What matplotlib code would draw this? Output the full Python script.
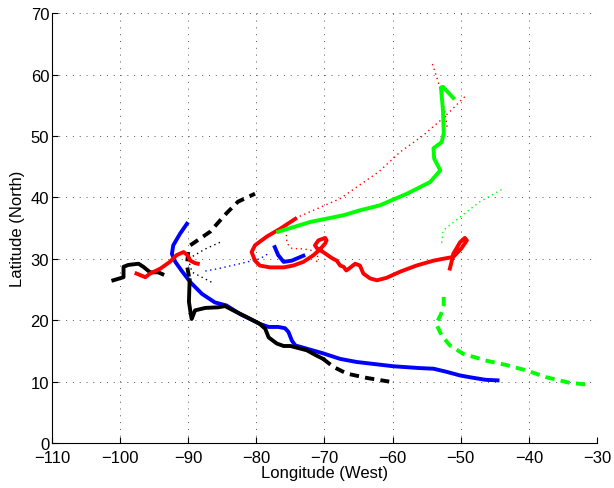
import matplotlib
matplotlib.use("Agg")
import matplotlib.pyplot as plt

plt.rcParams['font.family'] = ['Liberation Sans', 'DejaVu Sans']

# ---- black tracks ----
blk_solid_lon = [-101.0, -99.5, -99.5, -98.8, -97.3, -96.6, -95.6, -94.4, -93.8]
blk_solid_lat = [26.5, 27.0, 28.7, 29.0, 29.2, 28.7, 27.8, 27.8, 27.5]
blk_main_lon = [-89.8, -89.9, -89.6, -89.5, -89.0, -87.5, -85.6, -84.6, -83.4, -81.4, -79.5,
                -78.7, -78.2, -77.0, -76.0, -75.0, -72.6, -71.1, -70.2]
blk_main_lat = [26.5, 23.0, 20.8, 20.2, 21.6, 22.0, 22.1, 22.3, 21.6, 20.5, 19.4,
                18.6, 17.2, 16.2, 15.8, 15.8, 15.1, 14.2, 13.7]
blk_vdash_lon = [-90.0, -90.2, -89.8]
blk_vdash_lat = [31.1, 29.0, 26.5]
blk_dash_lon = [-70.2, -68.7, -66.7, -63.8, -60.5]
blk_dash_lat = [13.7, 12.4, 11.3, 10.6, 10.0]
blk_dash2_lon = [-89.7, -86.8, -84.4, -82.7, -80.2]
blk_dash2_lat = [32.2, 34.4, 37.4, 39.3, 40.6]
blk_dot_lon = [-86.6, -88.0, -89.4, -89.8, -89.5, -87.5, -85.3]
blk_dot_lat = [26.2, 27.0, 27.8, 29.0, 30.3, 31.6, 32.7]

# ---- blue tracks ----
blu_lon = [-44.6, -46.4, -48.6, -50.1, -52.1, -54.0, -56.0, -59.9, -65.3, -67.7, -70.2, -74.3,
           -74.8, -75.3, -75.8, -76.8, -78.2, -79.5, -80.0, -82.4, -84.4, -86.1, -88.0, -89.7,
           -91.0, -91.9, -92.4, -92.2, -91.2, -90.2]
blu_lat = [10.2, 10.3, 10.7, 11.0, 11.6, 12.1, 12.2, 12.5, 13.2, 13.7, 14.6, 15.9,
           16.7, 18.1, 18.7, 18.9, 18.9, 19.4, 19.7, 21.0, 22.4, 22.9, 24.3, 26.2,
           28.1, 29.5, 30.8, 32.2, 34.1, 35.7]
blu_short_lon = [-77.3, -76.8, -76.0, -74.8, -73.1]
blu_short_lat = [31.9, 30.6, 29.5, 29.7, 30.5]
blu_dot_lon = [-87.5, -85.6, -82.4, -79.5, -78.0]
blu_dot_lat = [28.0, 28.4, 29.2, 30.0, 31.0]

# ---- red tracks ----
red_left_lon = [-97.6, -96.3, -95.6, -94.1, -92.7, -91.7, -90.7, -90.1, -89.7, -89.0, -88.6]
red_left_lat = [27.6, 27.0, 27.6, 28.4, 29.5, 30.6, 31.1, 30.6, 29.7, 29.3, 29.2]
red_lon = [-51.6, -51.3, -51.1, -50.1, -49.4, -49.1, -49.9, -51.1, -52.6, -54.0, -56.5, -58.9,
           -60.9, -62.3, -63.3, -64.3, -64.8, -65.5, -66.3, -66.8, -67.2, -67.7, -68.2, -68.9,
           -70.2, -71.1, -71.4, -70.9, -69.9, -69.7, -69.9, -70.7, -71.6, -73.1, -74.6, -76.0,
           -78.0, -79.5, -80.2, -80.7, -80.2, -78.5, -76.5, -74.3]
red_lat = [28.4, 29.7, 30.8, 32.7, 33.4, 33.0, 31.7, 30.3, 30.0, 29.7, 28.9, 27.9,
           26.9, 26.5, 26.8, 27.6, 28.9, 29.2, 28.5, 28.1, 28.7, 28.9, 29.7, 30.1,
           31.1, 31.7, 32.2, 33.0, 33.4, 33.0, 32.5, 31.5, 30.6, 29.5, 28.9, 28.6,
           28.6, 28.9, 29.7, 31.1, 32.2, 33.6, 34.9, 36.5]
red_dot1_lon = [-74.3, -67.7, -62.0, -58.9, -55.5, -52.5, -49.4]
red_dot1_lat = [36.6, 39.8, 44.2, 47.4, 50.1, 53.0, 56.4]
red_dot2_lon = [-52.0, -52.5, -53.3, -54.3]
red_dot2_lat = [51.5, 55.0, 58.8, 62.2]
red_dot3_lon = [-75.6, -75.5, -74.8, -73.0, -71.6, -71.0, -71.2]
red_dot3_lat = [33.9, 32.5, 31.7, 31.6, 31.3, 30.4, 29.3]

# ---- green tracks ----
grn_lon = [-76.8, -72.1, -67.2, -64.8, -61.9, -57.9, -54.5, -53.0, -53.9, -54.0, -52.8, -52.5,
           -52.6, -52.9, -52.6, -51.1]
grn_lat = [34.4, 36.0, 37.1, 37.9, 38.7, 40.6, 42.5, 44.4, 46.3, 48.0, 49.0, 50.4,
           54.0, 57.9, 58.0, 56.2]
grn_dot_lon = [-52.8, -52.6, -50.1, -47.2, -43.8]
grn_dot_lat = [32.6, 34.6, 36.8, 39.3, 41.4]
grn_dash_lon = [-52.5, -52.5, -52.9, -53.6, -52.8, -51.6, -49.6, -46.2, -43.3, -40.3, -37.4,
                -34.0, -31.3]
grn_dash_lat = [23.8, 22.4, 21.0, 19.4, 17.5, 15.9, 14.5, 13.4, 12.7, 11.8, 10.7, 9.8, 9.5]

fig = plt.figure(figsize=(6.14, 4.89), dpi=100)
ax = fig.add_axes([0.0847, 0.092, 0.8876, 0.879])

lw = 2.8
dash = (0, (2.4, 1.6))
dot = (0, (1, 2.5))

ax.plot(blu_lon, blu_lat, color='b', lw=lw)
ax.plot(blu_short_lon, blu_short_lat, color='b', lw=lw)
ax.plot(blu_dot_lon, blu_dot_lat, color='b', lw=1.0, linestyle=dot)

ax.plot(blk_solid_lon, blk_solid_lat, color='k', lw=lw)
ax.plot(blk_main_lon, blk_main_lat, color='k', lw=lw)
ax.plot(blk_vdash_lon, blk_vdash_lat, color='k', lw=lw, linestyle=dash)
ax.plot(blk_dash_lon, blk_dash_lat, color='k', lw=lw, linestyle=dash)
ax.plot(blk_dash2_lon, blk_dash2_lat, color='k', lw=lw, linestyle=dash)
ax.plot(blk_dot_lon, blk_dot_lat, color='k', lw=1.0, linestyle=dot)

ax.plot(red_left_lon, red_left_lat, color='r', lw=lw)
ax.plot(red_lon, red_lat, color='r', lw=lw)
ax.plot(red_dot1_lon, red_dot1_lat, color='r', lw=1.0, linestyle=dot)
ax.plot(red_dot2_lon, red_dot2_lat, color='r', lw=1.0, linestyle=dot)
ax.plot(red_dot3_lon, red_dot3_lat, color='r', lw=1.0, linestyle=dot)

ax.plot(grn_lon, grn_lat, color='#00ff00', lw=lw)
ax.plot(grn_dot_lon, grn_dot_lat, color='#00ff00', lw=1.0, linestyle=dot)
ax.plot(grn_dash_lon, grn_dash_lat, color='#00ff00', lw=lw, linestyle=dash)

ax.set_xlim(-110, -30)
ax.set_ylim(0, 70)
ax.set_xticks(range(-110, -29, 10))
ax.set_yticks(range(0, 71, 10))
ax.grid(True, color='#555555', linestyle=(0, (1, 6)), linewidth=0.7)
ax.spines['top'].set_visible(False)
ax.spines['right'].set_visible(False)
ax.tick_params(direction='in', labelsize=12, length=4)
ax.tick_params(axis='x', pad=5)
ax.tick_params(axis='y', pad=2)
ax.set_xlabel('Longitude (West)', fontsize=12, labelpad=0)
ax.set_ylabel('Latitude (North)', fontsize=12, labelpad=4)

fig.savefig('out.png', dpi=100)
